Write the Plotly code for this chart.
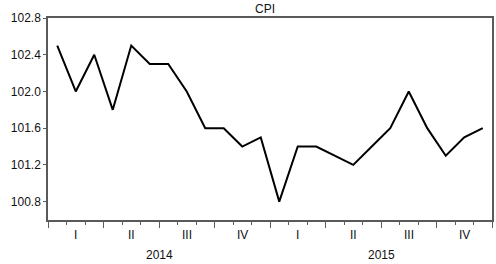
import plotly.graph_objects as go

title = "CPI"
months = list(range(24))
cpi = [102.5, 102.0, 102.4, 101.8, 102.5, 102.3, 102.3, 102.0, 101.6, 101.6, 101.4, 101.5,
       100.8, 101.4, 101.4, 101.3, 101.2, 101.4, 101.6, 102.0, 101.6, 101.3, 101.5, 101.6]
quarter_labels = ["I", "II", "III", "IV", "I", "II", "III", "IV"]
quarter_pos = [1, 4, 7, 10, 13, 16, 19, 22]
year_labels = ["2014", "2015"]
year_pos = [5.5, 17.5]
y_ticks = [100.8, 101.2, 101.6, 102.0, 102.4, 102.8]

W, H = 496, 264
ml, mr, mt, mb = 47.5, 3.5, 18, 44
axis_col = "#5a5a5a"
font = dict(family="Liberation Sans, Arial, sans-serif", size=12, color="#111111")

fig = go.Figure()
fig.add_trace(go.Scatter(x=months, y=cpi, mode="lines",
                         line=dict(color="black", width=2), showlegend=False,
                         hoverinfo="skip"))

fig.update_layout(
    width=W, height=H,
    margin=dict(l=ml, r=mr, t=mt, b=mb, pad=0),
    paper_bgcolor="white", plot_bgcolor="white",
    font=font,
    hovermode=False,
    xaxis=dict(range=[-0.5, 23.5], showgrid=False, zeroline=False,
               showline=True, linecolor=axis_col, linewidth=1.5, mirror=True,
               tickmode="array", tickvals=[-0.5 + 3 * i for i in range(9)],
               showticklabels=False, ticks="outside", ticklen=6,
               tickcolor=axis_col, tickwidth=1.2,
               minor=dict(ticks="outside", ticklen=3, tickcolor=axis_col,
                          tickwidth=1.2, tickmode="linear", tick0=-0.5, dtick=1,
                          showgrid=False)),
    yaxis=dict(range=[100.6, 102.8], showgrid=False, zeroline=False,
               showline=True, linecolor=axis_col, linewidth=1.5, mirror=True,
               tickmode="array", tickvals=y_ticks,
               ticktext=[f"{v:.1f}" for v in y_ticks],
               ticks="outside", ticklen=3, tickcolor=axis_col, tickwidth=1.2),
)

for lab, pos in zip(quarter_labels, quarter_pos):
    fig.add_annotation(x=pos, y=0, xref="x", yref="paper", text=lab, showarrow=False,
                       yanchor="middle", yshift=-15, font=font)
for lab, pos in zip(year_labels, year_pos):
    fig.add_annotation(x=pos, y=0, xref="x", yref="paper", text=lab, showarrow=False,
                       yanchor="middle", yshift=-35, font=font)
fig.add_annotation(x=(265 - ml) / (W - ml - mr), y=1, xref="paper", yref="paper",
                   text=title, showarrow=False, yanchor="middle", yshift=9, font=font)

fig.write_html("out.html", config={"displayModeBar": False},
               post_script="document.body.style.margin='0';")
